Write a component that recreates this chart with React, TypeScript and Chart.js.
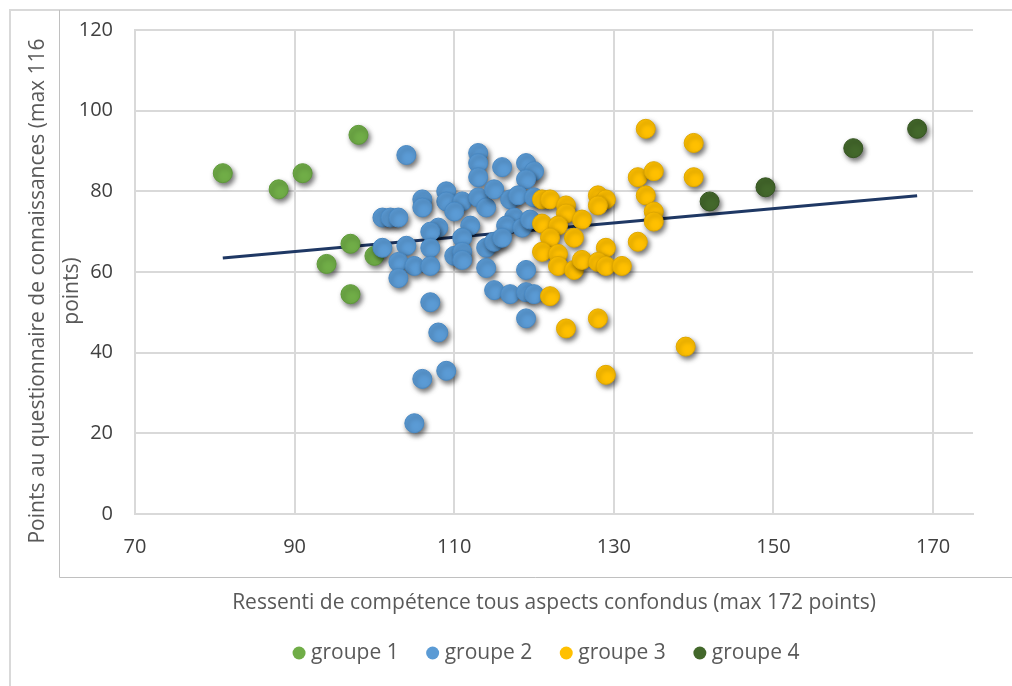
import { useEffect, useRef } from "react";
import { Chart, registerables } from "chart.js";

Chart.register(...registerables);

const xTicks = [70, 90, 110, 130, 150, 170];
const yTicks = [0, 20, 40, 60, 80, 100, 120];
const groupNames = ["groupe 1", "groupe 2", "groupe 3", "groupe 4"];
const xTitle = "Ressenti de compétence tous aspects confondus (max 172 points)";
const yTitleLines = ["Points au questionnaire de connaissances (max 116", "points)"];

const groupe1: [number, number][] = [
  [81, 84.5], [88, 80.5], [91, 84.5], [98, 94], [97, 67], [94, 62], [97, 54.5], [100, 64],
];

const groupe2: [number, number][] = [
  [104, 89], [113, 89.5], [113, 87], [113, 83.5], [116, 86], [119, 87], [120, 85], [119, 83],
  [109, 80], [109, 77.5], [106, 78], [106, 76], [111, 77.5], [110, 75], [113, 78.5], [114, 76],
  [115, 80.5], [117, 78], [118, 79], [120, 78.5], [101, 73.5], [102, 73.5], [103, 73.5], [108, 71],
  [107, 70], [112, 71.5], [111, 68.5], [117.5, 73.5], [116.5, 71.5], [118.5, 71], [119.5, 73], [101, 66],
  [104, 66.5], [107, 66], [110, 64], [111, 65], [111, 63], [114, 66], [115, 67.5], [116, 68.5],
  [103, 62.5], [105, 61.5], [107, 61.5], [103, 58.5], [114, 61], [119, 60.5], [107, 52.5], [108, 45],
  [115, 55.5], [117, 54.5], [119, 55], [120, 54.5], [119, 48.5], [109, 35.5], [106, 33.5], [105, 22.5],
];

const groupe3: [number, number][] = [
  [121, 78], [122, 78], [124, 76.5], [124, 74.5], [128, 79], [129, 78], [128, 76.5], [133, 83.5],
  [135, 85], [134, 95.5], [140, 92], [140, 83.5], [134, 79], [135, 75], [135, 72.5], [133, 67.5],
  [121, 72], [123, 71.5], [126, 73], [122, 68.5], [125, 68.5], [121, 65], [123, 64.5], [129, 66],
  [123, 61.5], [125, 60.5], [126, 63], [128, 62.5], [129, 61.5], [131, 61.5], [122, 54], [124, 46],
  [128, 48.5], [129, 34.5], [139, 41.5],
];

const groupe4: [number, number][] = [
  [142, 77.5], [149, 81], [160, 90.7], [168, 95.5],
];

const trendX = [81, 168];
const trendY = [63.5, 78.9];

const groupColors = ["#70ad47", "#5b9bd5", "#ffc000", "#43682b"];
const groupBorders = ["#5f9a3a", "#4a89c3", "#e0a800", "#375623"];

const toPoints = (arr: [number, number][]) => arr.map(([x, y]) => ({ x, y }));

const FONT = '"Open Sans", "Noto Sans", sans-serif';

const decorPlugin = {
  id: "decor",
  beforeDraw(chart: any) {
    const ctx = chart.ctx as CanvasRenderingContext2D;
    ctx.save();
    ctx.fillStyle = "#ffffff";
    ctx.fillRect(0, 0, chart.width, chart.height);
    ctx.strokeStyle = "#d9d9d9";
    ctx.lineWidth = 2;
    ctx.beginPath();
    ctx.moveTo(10, chart.height);
    ctx.lineTo(10, 10);
    ctx.lineTo(chart.width, 10);
    ctx.stroke();
    ctx.strokeStyle = "#c0c0c0";
    ctx.lineWidth = 1;
    ctx.beginPath();
    ctx.moveTo(59.5, 10);
    ctx.lineTo(59.5, 577.5);
    ctx.lineTo(chart.width, 577.5);
    ctx.stroke();
    ctx.restore();
  },
  beforeDatasetDraw(chart: any, args: any) {
    const ds = chart.data.datasets[args.index];
    if (ds.showLine) return;
    const ctx = chart.ctx as CanvasRenderingContext2D;
    ctx.save();
    ctx.shadowColor = "rgba(0,0,0,0.55)";
    ctx.shadowBlur = 5;
    ctx.shadowOffsetX = 2;
    ctx.shadowOffsetY = 3;
  },
  afterDatasetDraw(chart: any, args: any) {
    const ds = chart.data.datasets[args.index];
    if (ds.showLine) return;
    chart.ctx.restore();
  },
  afterDraw(chart: any) {
    const ctx = chart.ctx as CanvasRenderingContext2D;
    const area = chart.chartArea;
    ctx.save();
    ctx.fillStyle = "#595959";
    ctx.font = `21px ${FONT}`;
    ctx.textAlign = "center";
    ctx.textBaseline = "middle";
    ctx.fillText(xTitle, (area.left + area.right) / 2, 603);
    const yc = 291;
    const xs = [38, 72];
    yTitleLines.forEach((line, i) => {
      ctx.save();
      ctx.translate(xs[i], yc);
      ctx.rotate(-Math.PI / 2);
      ctx.fillText(line, 0, 0);
      ctx.restore();
    });
    ctx.textAlign = "left";
    const r = 6.5;
    const dotToText = 12;
    const gap = 34;
    const widths = groupNames.map((n) => ctx.measureText(n).width);
    const totalWidth =
      widths.reduce((a, w) => a + w, 0) + groupNames.length * (r + dotToText) + (groupNames.length - 1) * (gap - r);
    let x = 546 - totalWidth / 2;
    const ly = 653;
    groupNames.forEach((name, i) => {
      const cx = x + r;
      ctx.beginPath();
      ctx.fillStyle = groupColors[i];
      ctx.arc(cx, ly, r, 0, Math.PI * 2);
      ctx.fill();
      ctx.fillStyle = "#595959";
      ctx.fillText(name, cx + dotToText, ly);
      x = cx + dotToText + widths[i] + gap - r;
    });
    ctx.restore();
  },
};

export default function App() {
  const ref = useRef<HTMLCanvasElement | null>(null);

  useEffect(() => {
    if (!ref.current) return;
    const groups = [groupe1, groupe2, groupe3, groupe4];
    const datasets: any[] = groups.map((g, i) => ({
      label: groupNames[i],
      data: toPoints(g),
      backgroundColor: groupColors[i],
      borderColor: groupBorders[i],
      borderWidth: 1,
      pointRadius: 9.5,
      pointHoverRadius: 9.5,
      order: 5 - i,
    }));
    datasets.push({
      label: "Tendance",
      data: trendX.map((x, i) => ({ x, y: trendY[i] })),
      showLine: true,
      borderColor: "#1f3864",
      borderWidth: 3,
      pointRadius: 0,
      fill: false,
      order: 10,
    });

    const chart = new Chart(ref.current, {
      type: "scatter",
      data: { datasets },
      options: {
        responsive: false,
        animation: false,
        events: [],
        layout: { padding: { left: 75, top: 30, right: 39, bottom: 112 } },
        plugins: {
          legend: { display: false },
          tooltip: { enabled: false },
        },
        scales: {
          x: {
            type: "linear",
            min: 70,
            max: 175,
            afterBuildTicks: (scale: any) => {
              scale.ticks = xTicks.map((v) => ({ value: v }));
            },
            afterFit: (scale: any) => {
              scale.height = 60;
            },
            grid: { color: "#d9d9d9", lineWidth: 2, drawTicks: false },
            border: { display: true, color: "#d9d9d9", width: 2 },
            ticks: {
              padding: 21,
              color: "#404040",
              font: { family: FONT, size: 20 },
            },
          },
          y: {
            type: "linear",
            min: 0,
            max: 120,
            afterBuildTicks: (scale: any) => {
              scale.ticks = yTicks.map((v) => ({ value: v }));
            },
            afterFit: (scale: any) => {
              scale.width = 60;
            },
            grid: { color: "#d9d9d9", lineWidth: 2, drawTicks: false },
            border: { display: true, color: "#d9d9d9", width: 2 },
            ticks: {
              padding: 22,
              color: "#404040",
              font: { family: FONT, size: 20, lineHeight: 0.6 },
            },
          },
        },
      },
      plugins: [decorPlugin],
    });
    return () => chart.destroy();
  }, []);

  return (
    <div style={{ position: "absolute", left: 0, top: 0, width: 1012, height: 686 }}>
      <canvas ref={ref} width={1012} height={686} style={{ display: "block" }} />
    </div>
  );
}
